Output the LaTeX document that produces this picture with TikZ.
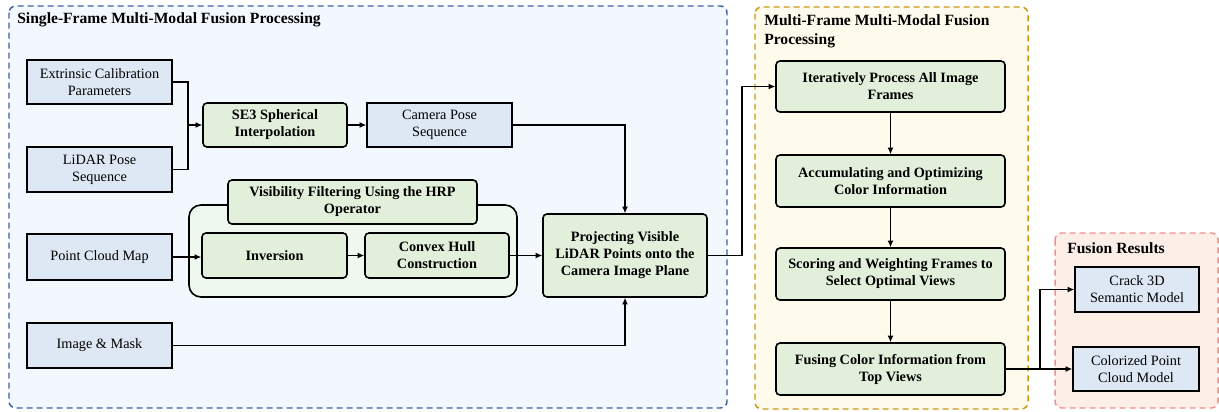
\documentclass[tikz,border=0pt]{standalone}
\usepackage{fontspec}
\setmainfont{Liberation Serif}
\usetikzlibrary{arrows.meta}
\definecolor{bluefill}{HTML}{DEE8F4}
\definecolor{greenfill}{HTML}{E2EFDA}
\definecolor{bluebg}{HTML}{F3F7FE}
\definecolor{bluedash}{HTML}{3F5F9F}
\definecolor{yellowbg}{HTML}{FEFBEC}
\definecolor{yellowdash}{HTML}{C99A12}
\definecolor{redbg}{HTML}{FDEEE8}
\definecolor{reddash}{HTML}{EE9090}
\definecolor{contfill}{HTML}{EFF8EE}
\tikzset{
  inbox/.style={draw=black, line width=1.2pt, fill=bluefill, align=center, inner sep=0pt, font=\fontsize{10.7}{12.75}\selectfont},
  procbox/.style={draw=black, line width=1.2pt, fill=greenfill, rounded corners=3pt, align=center, inner sep=0pt, font=\fontsize{10.7}{12.75}\selectfont\bfseries},
  panel/.style={dashed, dash pattern=on 4.5pt off 3pt, line width=1.1pt, rounded corners=5pt},
  arr/.style={-{Latex[length=5pt,width=4.5pt]}, line width=0.8pt},
  ln/.style={line width=0.8pt},
  paneltitle/.style={font=\fontsize{11.7}{14.25}\selectfont\bfseries, inner sep=0pt, align=left}
}
\begin{document}
\begin{tikzpicture}[x=0.75pt,y=-0.75pt]
\useasboundingbox (0,0) rectangle (1219,411);
% panels
\draw[panel, draw=bluedash, fill=bluebg] (9,6) rectangle (727,408);
\draw[panel, draw=yellowdash, fill=yellowbg] (755,7) rectangle (1028,409);
\draw[panel, draw=reddash, fill=redbg] (1055,233) rectangle (1218,408);
\node[paneltitle, anchor=west] (t1) at (17,20) {Single-Frame Multi-Modal Fusion Processing};
\node[paneltitle, anchor=north west] (t2) at (764,14) {Multi-Frame Multi-Modal Fusion\\Processing};
\node[paneltitle, anchor=west] (t3) at (1067,248) {Fusion Results};
% visibility container
\node[draw=black, line width=1.2pt, fill=contfill, rounded corners=9pt, minimum width=328*0.75pt, minimum height=92*0.75pt, inner sep=0pt] (cont) at (353,251) {};
% input boxes
\node[inbox, minimum width=145*0.75pt, minimum height=44*0.75pt] (ext) at (99.5,82) {Extrinsic Calibration\\Parameters};
\node[inbox, minimum width=145*0.75pt, minimum height=45*0.75pt] (lidar) at (99.5,169.5) {LiDAR Pose\\Sequence};
\node[inbox, minimum width=145*0.75pt, minimum height=46*0.75pt] (pcm) at (99.5,257) {Point Cloud Map};
\node[inbox, minimum width=145*0.75pt, minimum height=45*0.75pt] (img) at (99.5,345.5) {Image \& Mask};
% processing
\node[procbox, minimum width=144*0.75pt, minimum height=44*0.75pt] (se3) at (275,125) {SE3 Spherical\\Interpolation};
\node[inbox, minimum width=145*0.75pt, minimum height=44*0.75pt] (cam) at (439.5,125) {Camera Pose\\Sequence};
\node[procbox, minimum width=249*0.75pt, minimum height=44*0.75pt] (vis) at (352.5,202) {Visibility Filtering Using the HRP\\Operator};
\node[procbox, minimum width=145*0.75pt, minimum height=45*0.75pt] (inv) at (274.5,255.5) {Inversion};
\node[procbox, minimum width=144*0.75pt, minimum height=45*0.75pt] (hull) at (437,255.5) {Convex Hull\\Construction};
\node[procbox, minimum width=164*0.75pt, minimum height=83*0.75pt] (proj) at (625,255.5) {Projecting Visible\\LiDAR Points onto the\\Camera Image Plane};
% multi-frame
\node[procbox, minimum width=229*0.75pt, minimum height=51*0.75pt] (iter) at (890.5,86.5) {Iteratively Process All Image\\Frames};
\node[procbox, minimum width=229*0.75pt, minimum height=52*0.75pt] (acc) at (890.5,181) {Accumulating and Optimizing\\Color Information};
\node[procbox, minimum width=229*0.75pt, minimum height=52*0.75pt] (score) at (890.5,274) {Scoring and Weighting Frames to\\Select Optimal Views};
\node[procbox, minimum width=229*0.75pt, minimum height=52*0.75pt] (fuse) at (890.5,369) {Fusing Color Information from\\Top Views};
% results
\node[inbox, minimum width=124*0.75pt, minimum height=45*0.75pt] (crack) at (1137,289.5) {Crack 3D\\Semantic Model};
\node[inbox, minimum width=126*0.75pt, minimum height=44*0.75pt] (color) at (1136,369) {Colorized Point\\Cloud Model};
% connectors
\coordinate (m1) at (188,125);
\draw[ln] (ext.east) -| (m1);
\draw[ln] (lidar.east) -| (m1);
\draw[arr] (m1) -- (se3.west);
\draw[arr] (se3.east) -- (cam.west);
\draw[arr] (cam.east) -| (proj.north);
\draw[arr] (pcm.east) -- (pcm.east -| inv.west);
\draw[arr] (inv.east) -- (hull.west);
\draw[arr] (hull.east) -- (proj.west);
\draw[arr] (img.east) -| (proj.south);
\coordinate (j1) at (742,255.5);
\draw[arr] (proj.east) -- (j1) |- (iter.west);
\draw[arr] (iter.south) -- (acc.north);
\draw[arr] (acc.south) -- (score.north);
\draw[arr] (score.south) -- (fuse.north);
\coordinate (j2) at (1040,369);
\draw[arr] (fuse.east) -- (color.west);
\draw[arr] (j2) |- (crack.west);
\end{tikzpicture}
\end{document}
